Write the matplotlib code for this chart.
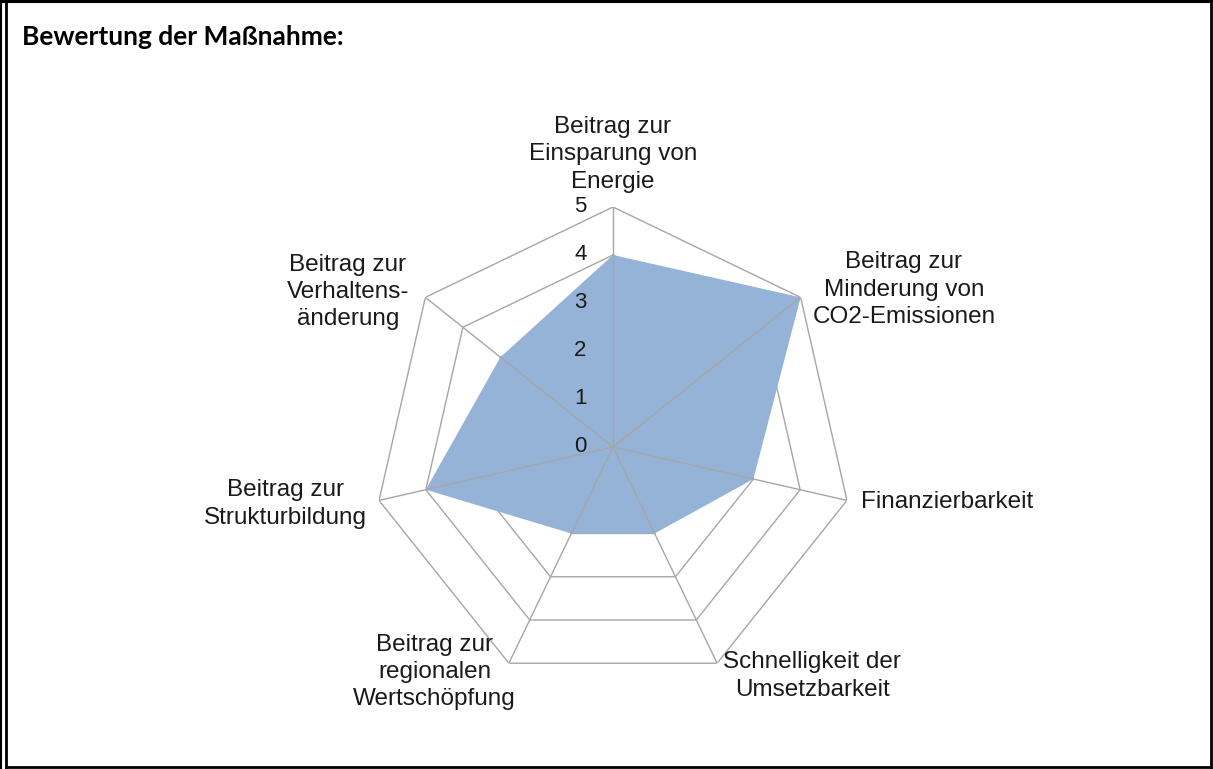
import numpy as np
import matplotlib.pyplot as plt
from matplotlib.lines import Line2D
from matplotlib.transforms import offset_copy

# data
categories = [
    "Beitrag zur\nEinsparung von\nEnergie",
    "Beitrag zur\nMinderung von\nCO2-Emissionen",
    "Finanzierbarkeit",
    "Schnelligkeit der\nUmsetzbarkeit",
    "Beitrag zur\nregionalen\nWertschöpfung",
    "Beitrag zur\nStrukturbildung",
    "Beitrag zur\nVerhaltens-\nänderung",
]
scores = [4, 5, 3, 2, 2, 4, 3]
levels = [0, 1, 2, 3, 4, 5]
title = "Bewertung der Maßnahme:"

W, H = 1213, 769
fill_color = "#95B3D7"
grid_color = "#A6A6A6"

plt.rcParams["font.family"] = ["Liberation Sans", "DejaVu Sans"]

fig = plt.figure(figsize=(W / 100, H / 100), dpi=100)

# centre of the radar at (613, 447) px, radius 240 px for value 5
cx, cy, rad = 613, 447, 240
ax = fig.add_axes([(cx - rad) / W, (H - cy - rad) / H, 2 * rad / W, 2 * rad / H],
                  projection="polar")
ax.set_theta_zero_location("N")
ax.set_theta_direction(-1)
ax.set_ylim(0, levels[-1])
ax.axis("off")

n = len(categories)
theta = np.arange(n) * 2 * np.pi / n
th_closed = np.append(theta, theta[0])

# rings behind the fill, spokes on top
for lv in levels[1:]:
    ax.plot(th_closed, [lv] * (n + 1), color=grid_color, lw=1.0, zorder=1)
ax.fill(th_closed, scores + scores[:1], color=fill_color, lw=0, zorder=2)
for t in theta:
    ax.plot([t, t], [0, levels[-1]], color=grid_color, lw=1.0, zorder=3)

# level labels left of top spoke
tr = offset_copy(ax.transData, fig=fig, x=-19, y=0, units="points")
for lv in levels:
    ax.text(0, lv, str(lv), transform=tr, ha="right", va="center",
            fontsize=16, color="#1a1a1a", clip_on=False)

# category labels (polar position of label centre)
label_pos = [(0.0, 6.10), (61.6, 6.89), (99.3, 7.06), (139.0, 6.32),
             (218.4, 5.98), (260.1, 6.93), (300.3, 6.40)]
for txt, (ang, r) in zip(categories, label_pos):
    ax.text(np.deg2rad(ang), r, txt, ha="center", va="center", fontsize=17.5,
            color="#1a1a1a", linespacing=1.32, clip_on=False)

fig.text(22 / W, 1 - 45 / H, title, fontsize=19, fontweight="bold",
         family=["Lato", "DejaVu Sans"], ha="left", va="baseline")

# page frame
def px_line(xs, ys, lw):
    fig.add_artist(Line2D([x / W for x in xs], [1 - y / H for y in ys],
                          transform=fig.transFigure, color="black", lw=lw))

px_line([0, W], [1, 1], 2.2)
px_line([1, 1], [0, H], 1.5)
px_line([5.5, 5.5], [1, 766.5], 2.0)
px_line([5.5, 1211], [766.5, 766.5], 2.0)
px_line([1211, 1211], [1, 766.5], 2.0)

fig.savefig("out.png", dpi=100)
